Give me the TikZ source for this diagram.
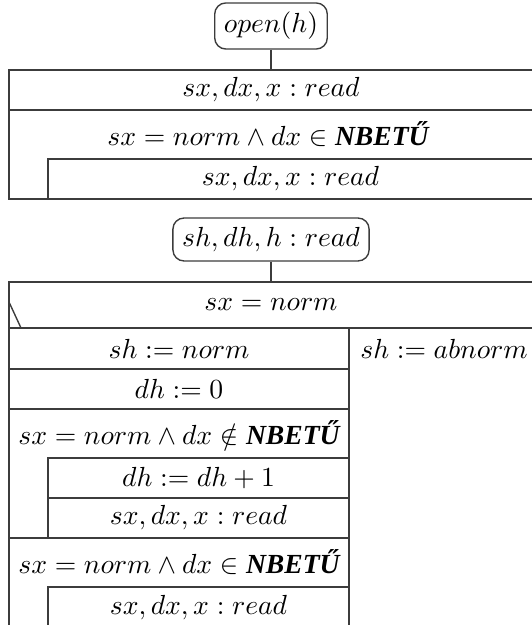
\documentclass[tikz,border=0pt]{standalone}
\usepackage{amsmath,amssymb}
\usepackage{fontspec}
\usepackage{tikz}
\usetikzlibrary{positioning}
\newfontfamily\setfont{Liberation Serif}
\definecolor{nsline}{RGB}{60,60,60}
\newcommand{\px}{0.362pt}
\newcommand{\nbetu}{\mbox{\setfont\bfseries\itshape NBETŰ}}
\tikzset{
  block/.style={rectangle,draw=nsline,line width=0.5pt,anchor=north west,
    inner sep=0pt,outer sep=0pt},
  startbox/.style={rectangle,draw=nsline,line width=0.5pt,rounded corners=4pt},
  conn/.style={draw=nsline,line width=0.5pt}
}
\begin{document}
\begin{tikzpicture}[x=\px,y=-\px]
  \useasboundingbox (0,0) rectangle (531,625);
  % opening part
  \node[startbox] (open) at (271,26) {$open(h)$};
  \node[block,minimum width=524*\px,minimum height=40*\px] (rd1) at (9,70) {$sx,dx,x:read$};
  \node[block,minimum width=524*\px,minimum height=89*\px] (lp1) at (9,110) {};
  \node (lh1) at (268,134.5) {$sx=norm\land dx\in\nbetu$};
  \node[block,minimum width=485*\px,minimum height=40*\px] (rd2) at (48,159) {$sx,dx,x:read$};
  \draw[conn] (open) -- (open |- rd1.north);

  % main part
  \node[startbox] (shdh) at (271,239.5) {$sh,dh,h:read$};
  \node[block,minimum width=524*\px,minimum height=46*\px] (if1) at (9,282) {$sx=norm$};
  \draw[conn] (shdh) -- (shdh |- if1.north);
  \draw[conn] ([yshift=-20*\px]if1.north west) -- ([xshift=12*\px]if1.south west);
  \node[block,minimum width=340*\px,minimum height=41*\px] (sh1) at (9,328) {$sh:=norm$};
  \node[block,minimum width=184*\px,minimum height=300*\px] (sh2) at (349,328) {};
  \node (abn) at (444,348.5) {$sh:=abnorm$};
  \node[block,minimum width=340*\px,minimum height=40*\px] (dh0) at (9,369) {$dh:=0$};
  \node[block,minimum width=340*\px,minimum height=129*\px] (lp2) at (9,409) {};
  \node (lh2) at (179,433.5) {$sx=norm\land dx\notin\nbetu$};
  \node[block,minimum width=301*\px,minimum height=40*\px] (inc) at (48,458) {$dh:=dh+1$};
  \node[block,minimum width=301*\px,minimum height=40*\px] (rd3) at (48,498) {$sx,dx,x:read$};
  \node[block,minimum width=340*\px,minimum height=90*\px] (lp3) at (9,538) {};
  \node (lh3) at (179,562.5) {$sx=norm\land dx\in\nbetu$};
  \node[block,minimum width=301*\px,minimum height=41*\px] (rd4) at (48,587) {$sx,dx,x:read$};
\end{tikzpicture}
\end{document}
